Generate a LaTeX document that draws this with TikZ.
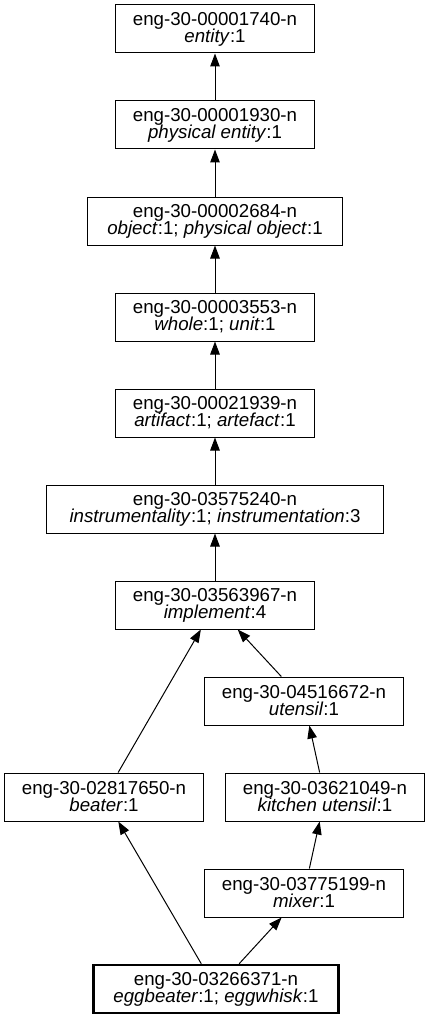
\documentclass[tikz,border=0pt]{standalone}
\usepackage{fontspec}
\setmainfont{Liberation Sans}
\usetikzlibrary{arrows.meta}
\setlength{\lineskiplimit}{-10pt}

\begin{document}
\begin{tikzpicture}[x=1pt, y=-1pt,
    syn/.style={draw, line width=1pt, minimum width=199pt, minimum height=48pt,
        inner xsep=4pt, inner ysep=0pt, align=center,
        font=\fontsize{18.7}{17}\selectfont},
    hyp/.style={line width=1pt, -{Triangle[length=13pt, width=9.5pt]}}]
    %
    \useasboundingbox (0,0) rectangle (429,1019);

    %
    \node[syn] (E) at (215,29) {eng-30-00001740-n\\\textit{entity}:1};
    \node[syn] (PE) at (215,125) {eng-30-00001930-n\\\textit{physical entity}:1};
    \node[syn, minimum width=255pt] (O) at (215,221) {eng-30-00002684-n\\\textit{object}:1; \textit{physical object}:1};
    \node[syn] (W) at (215,317) {eng-30-00003553-n\\\textit{whole}:1; \textit{unit}:1};
    \node[syn] (A) at (215,413) {eng-30-00021939-n\\\textit{artifact}:1; \textit{artefact}:1};
    \node[syn, minimum width=337pt] (I) at (215,509) {eng-30-03575240-n\\\textit{instrumentality}:1; \textit{instrumentation}:3};
    \node[syn] (IM) at (215,605) {eng-30-03563967-n\\\textit{implement}:4};

    %
    \node[syn] (U) at (304,701) {eng-30-04516672-n\\\textit{utensil}:1};
    \node[syn] (B) at (104,797) {eng-30-02817650-n\\\textit{beater}:1};
    \node[syn] (K) at (325,797) {eng-30-03621049-n\\\textit{kitchen utensil}:1};
    \node[syn] (M) at (304,893) {eng-30-03775199-n\\\textit{mixer}:1};
    \node[syn, line width=2.5pt, minimum width=245pt] (EB) at (216,989) {eng-30-03266371-n\\\textit{eggbeater}:1; \textit{eggwhisk}:1};

    %
    \draw[hyp] (PE) -- (E);
    \draw[hyp] (O) -- (PE);
    \draw[hyp] (W) -- (O);
    \draw[hyp] (A) -- (W);
    \draw[hyp] (I) -- (A);
    \draw[hyp] (IM) -- (I);

    %
    \draw[hyp] (U) -- (IM);
    \draw[hyp] (B) -- (IM);
    \draw[hyp] (K) -- (U);
    \draw[hyp] (M) -- (K);
    \draw[hyp] (EB) -- (B);
    \draw[hyp] (EB) -- (M);

\end{tikzpicture}
\end{document}
